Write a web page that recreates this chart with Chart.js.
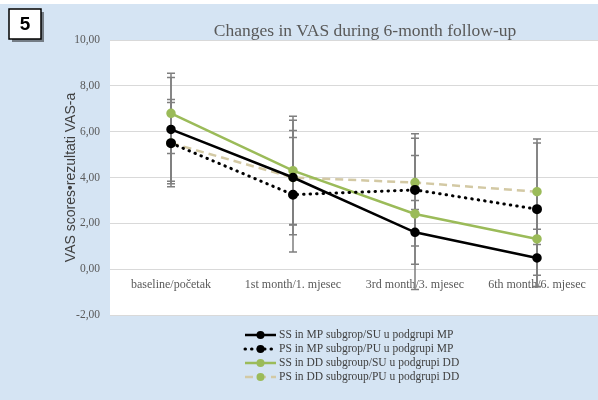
<!DOCTYPE html>
<html>
<head>
<meta charset="utf-8">
<script src="https://cdn.jsdelivr.net/npm/chart.js@4"></script>
<style>
  html, body { margin: 0; padding: 0; background: #ffffff; }
  #wrap { width: 598px; height: 400px; }
</style>
</head>
<body>
<div id="wrap"><canvas id="vasChart" width="598" height="400"></canvas></div>
<script>
// categories and series
var categories = ['baseline/početak', '1st month/1. mjesec', '3rd month/3. mjesec', '6th month/6. mjesec'];
var ssMP = [6.10, 4.00, 1.61, 0.49];
var psMP = [5.50, 3.25, 3.46, 2.62];
var ssDD = [6.80, 4.30, 2.41, 1.32];
var psDD = [5.50, 4.00, 3.78, 3.38];
// standard deviations for the error bars
var ssMPsd = [2.26, 2.05, 1.39, 1.25];
var psMPsd = [1.90, 2.50, 2.45, 2.89];
var ssDDsd = [1.75, 2.37, 3.30, 2.09];
var psDDsd = [1.77, 2.50, 1.18, 2.30];
var yTicks = [-2, 0, 2, 4, 6, 8, 10];

var chartTitle = 'Changes in VAS during 6-month follow-up';
var yTitle = 'VAS scores•rezultati VAS-a';
var seriesNames = [
  'SS in MP subgrop/SU u podgrupi MP',
  'PS in MP subgrop/PU u podgrupi MP',
  'SS in DD subgroup/SU u podgrupi DD',
  'PS in DD subgroup/PU u podgrupi DD'
];

var blueBg = '#d5e4f3';
var green = '#9bbb59';
var tan = '#d3c9a4';
var serif = '"Liberation Serif", "DejaVu Serif", serif';

function fmt(v) {
  return v.toFixed(2).replace('.', ',');
}

// background, white plot panel, the "5" box and the title
var framePlugin = {
  id: 'frame',
  beforeDraw: function(chart) {
    var ctx = chart.ctx;
    var a = chart.chartArea;
    ctx.save();
    ctx.fillStyle = '#ffffff';
    ctx.fillRect(0, 0, chart.width, chart.height);
    ctx.fillStyle = blueBg;
    ctx.fillRect(0, 4, chart.width, chart.height - 4);
    ctx.fillStyle = '#ffffff';
    ctx.fillRect(a.left, a.top, a.right - a.left, a.bottom - a.top);

    // figure number box
    ctx.fillStyle = 'rgba(0,0,0,0.45)';
    ctx.fillRect(12, 12, 32, 30);
    ctx.fillStyle = '#ffffff';
    ctx.fillRect(9, 9, 32, 30);
    ctx.strokeStyle = '#000000';
    ctx.lineWidth = 1.5;
    ctx.strokeRect(9, 9, 32, 30);
    ctx.fillStyle = '#000000';
    ctx.font = 'bold 19px "Liberation Sans", Arial, sans-serif';
    ctx.textAlign = 'center';
    ctx.textBaseline = 'middle';
    ctx.fillText('5', 25, 25);

    // title
    ctx.fillStyle = '#595959';
    ctx.font = '17.5px ' + serif;
    ctx.textBaseline = 'alphabetic';
    ctx.fillText(chartTitle, 365, 36);
    ctx.restore();
  }
};

// error bars drawn under the lines
var errorBarPlugin = {
  id: 'errorBars',
  beforeDatasetsDraw: function(chart) {
    var ctx = chart.ctx;
    var xs = chart.scales.x;
    var ys = chart.scales.y;
    ctx.save();
    ctx.strokeStyle = '#7f7f7f';
    ctx.lineWidth = 1.5;
    chart.data.datasets.forEach(function(ds) {
      ds.data.forEach(function(v, i) {
        var sd = ds.sd[i];
        var x = xs.getPixelForValue(i);
        var yTop = ys.getPixelForValue(v + sd);
        var yBot = ys.getPixelForValue(v - sd);
        ctx.beginPath();
        ctx.moveTo(x, yTop);
        ctx.lineTo(x, yBot);
        ctx.moveTo(x - 4, yTop);
        ctx.lineTo(x + 4, yTop);
        ctx.moveTo(x - 4, yBot);
        ctx.lineTo(x + 4, yBot);
        ctx.stroke();
      });
    });
    ctx.restore();
  }
};

// legend below the plot
var legendPlugin = {
  id: 'bottomLegend',
  afterDraw: function(chart) {
    var ctx = chart.ctx;
    ctx.save();
    chart.data.datasets.forEach(function(ds, i) {
      var y = 335 + i * 14;
      ctx.strokeStyle = ds.borderColor;
      ctx.lineWidth = ds.borderWidth;
      ctx.lineCap = ds.borderCapStyle || 'butt';
      ctx.setLineDash(ds.borderDash || []);
      ctx.beginPath();
      ctx.moveTo(245, y);
      ctx.lineTo(276, y);
      ctx.stroke();
      ctx.setLineDash([]);
      ctx.fillStyle = ds.pointBackgroundColor;
      ctx.beginPath();
      ctx.arc(260.5, y, 4, 0, Math.PI * 2);
      ctx.fill();
      ctx.fillStyle = '#404040';
      ctx.font = '11.5px ' + serif;
      ctx.textAlign = 'left';
      ctx.textBaseline = 'middle';
      ctx.fillText(ds.label, 279, y);
    });
    ctx.restore();
  }
};

var ctx = document.getElementById('vasChart').getContext('2d');
new Chart(ctx, {
  type: 'line',
  data: {
    labels: categories,
    datasets: [{
      label: seriesNames[0],
      data: ssMP,
      sd: ssMPsd,
      borderColor: '#000000',
      borderWidth: 2.5,
      pointBackgroundColor: '#000000',
      pointBorderColor: '#000000',
      pointRadius: 3.5,
      tension: 0
    }, {
      label: seriesNames[1],
      data: psMP,
      sd: psMPsd,
      borderColor: '#000000',
      borderWidth: 3,
      borderDash: [0.5, 6],
      borderCapStyle: 'round',
      pointBackgroundColor: '#000000',
      pointBorderColor: '#000000',
      pointRadius: 3.5,
      tension: 0
    }, {
      label: seriesNames[2],
      data: ssDD,
      sd: ssDDsd,
      borderColor: green,
      borderWidth: 2.5,
      pointBackgroundColor: green,
      pointBorderColor: green,
      pointRadius: 3.5,
      tension: 0
    }, {
      label: seriesNames[3],
      data: psDD,
      sd: psDDsd,
      borderColor: tan,
      borderWidth: 2.5,
      borderDash: [8, 5],
      pointBackgroundColor: green,
      pointBorderColor: green,
      pointRadius: 3.5,
      tension: 0
    }]
  },
  options: {
    responsive: false,
    animation: false,
    layout: {
      autoPadding: false,
      padding: { left: 0, right: 0, top: 40, bottom: 85 }
    },
    plugins: {
      legend: { display: false },
      tooltip: { enabled: false }
    },
    scales: {
      x: {
        type: 'category',
        offset: true,
        position: { y: 0 },
        afterFit: function(scale) {
          scale.paddingLeft = 0;
          scale.paddingRight = 0;
        },
        grid: { display: false, drawTicks: false },
        border: { display: false },
        ticks: {
          color: '#595959',
          font: { family: serif, size: 12 },
          padding: 8,
          maxRotation: 0
        }
      },
      y: {
        min: -2,
        max: 10,
        afterBuildTicks: function(scale) {
          scale.ticks = yTicks.map(function(v) { return { value: v }; });
        },
        afterFit: function(scale) { scale.width = 110; },
        grid: { color: '#d9d9d9', lineWidth: 1, drawTicks: false },
        border: { display: false },
        ticks: {
          color: '#595959',
          font: { family: serif, size: 11.5 },
          padding: 10,
          callback: function(v) { return fmt(v); }
        },
        title: {
          display: true,
          text: yTitle,
          color: '#404040',
          font: { family: '"Liberation Sans", Arial, sans-serif', size: 14 },
          padding: { top: 63, bottom: 0 }
        }
      }
    }
  },
  plugins: [framePlugin, errorBarPlugin, legendPlugin]
});
</script>
</body>
</html>
